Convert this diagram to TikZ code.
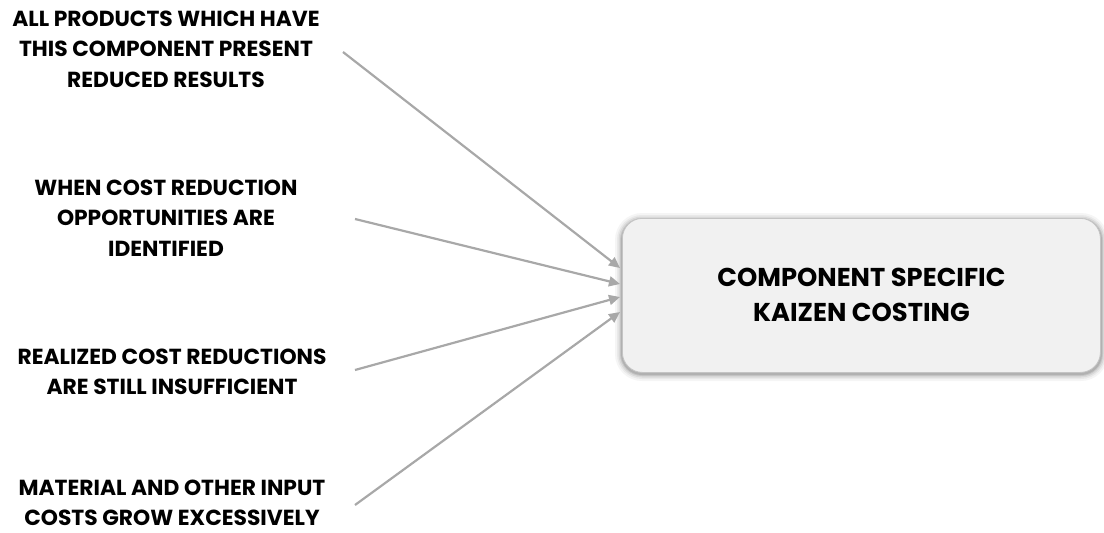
\documentclass[tikz,border=0pt]{standalone}
\usepackage{fontspec}
\setmainfont{Poppins}[UprightFont=* Bold, BoldFont=* Bold]
\usetikzlibrary{arrows.meta,calc}
\definecolor{linkgray}{HTML}{A8A8A8}
\definecolor{boxfill}{HTML}{F1F1F1}
\definecolor{boxedge}{HTML}{C4C4C4}
\tikzset{
  cause/.style={align=center, font=\fontsize{21.8}{30.5}\selectfont, inner sep=0pt},
  link/.style={draw=linkgray, line width=2.2pt, -{Triangle[length=11pt,width=10pt]}},
  hub/.style={rounded corners=20pt, fill=boxfill, draw=boxedge, line width=0.8pt}
}
\begin{document}
\begin{tikzpicture}[x=1pt,y=-1pt]
\useasboundingbox (0,0) rectangle (1104,533);
% soft shadow under the target box
\foreach \g/\o in {7/0.04,5/0.05,3.5/0.07,2/0.09,1/0.1}{
  \fill[black,opacity=\o,rounded corners=20pt+\g pt]
    (622-\g,219-\g+1) rectangle (1101+\g,373+\g+1);
}
\node[hub, minimum width=478pt, minimum height=154pt, anchor=north west,
      font=\fontsize{25.8}{35}\selectfont, align=center] (box) at (622,218)
  {COMPONENT SPECIFIC\\KAIZEN COSTING};
\node[cause] (c1) at (166,49) {ALL PRODUCTS WHICH HAVE\\THIS COMPONENT PRESENT\\REDUCED RESULTS};
\node[cause] (c2) at (166,218) {WHEN COST REDUCTION\\OPPORTUNITIES ARE\\IDENTIFIED};
\node[cause] (c3) at (172,372) {REALIZED COST REDUCTIONS\\ARE STILL INSUFFICIENT};
\node[cause] (c4) at (172,503) {MATERIAL AND OTHER INPUT\\COSTS GROW EXCESSIVELY};
% connector ends
\coordinate (s1) at (343,52);
\coordinate (s2) at (355,219);
\coordinate (s3) at (355,370);
\coordinate (s4) at (355,505);
\coordinate (e1) at (620,268);
\coordinate (e2) at (620,284);
\coordinate (e3) at (620,297);
\coordinate (e4) at (620,312);
\draw[link] (s1) -- (e1);
\draw[link] (s2) -- (e2);
\draw[link] (s3) -- (e3);
\draw[link] (s4) -- (e4);
\end{tikzpicture}
\end{document}
